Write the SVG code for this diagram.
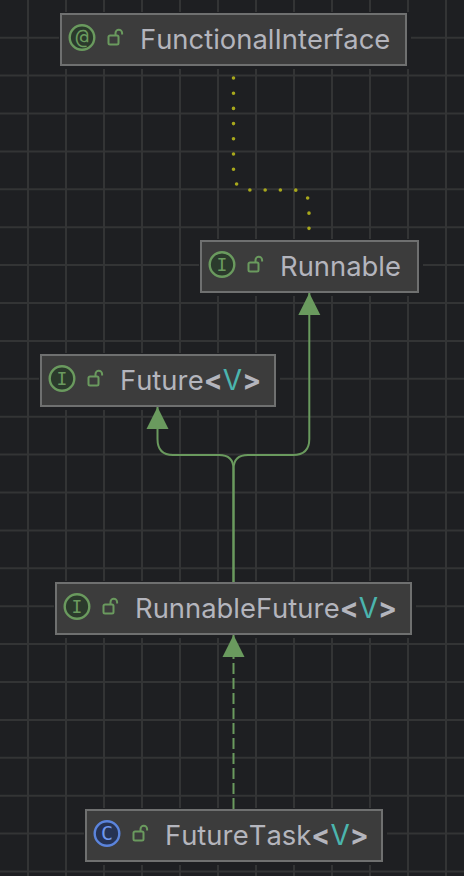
<svg xmlns="http://www.w3.org/2000/svg" width="464" height="876" viewBox="0 0 464 876">
<defs>
<style>
.n{fill:#3c3c3c;stroke:#6f7070;stroke-width:2}
.halo{fill:#1e1f22}
.t{font-family:Inter,"Noto Sans",sans-serif;font-size:27.4px;fill:#b4b5bd;font-kerning:none}
.b{font-weight:700;font-size:28px}
.v{fill:#4bb5ae;font-size:28px}
.ring{fill:#2b3a2c;stroke:#6a9a5e;stroke-width:2.4}
.cring{fill:#263354;stroke:#5b84dc;stroke-width:2.4}
.g{font-family:"DejaVu Sans Mono","Liberation Mono",monospace;font-size:18px;text-anchor:middle;fill:#6a9a5e}
.at{font-size:22px}
.c{fill:#6f98ee;font-size:20px}
.lock{fill:none;stroke:#6a9a5e;stroke-width:2}
.e{fill:none;stroke:#6a9a5e;stroke-width:2}
.d{stroke-dasharray:11 4}
.dot{fill:none;stroke:#a8a81c;stroke-width:3.6;stroke-linecap:round;stroke-dasharray:0 15.2}
.grid{stroke:#333435;stroke-width:2;fill:none}
</style>
<path id="lk" class="lock" d="M2 0H9a1.500 1.500 0 0 1 1.500 1.500V7.500a1.500 1.500 0 0 1 -1.500 1.500H2a1.500 1.500 0 0 1 -1.500 -1.500V1.500A1.500 1.500 0 0 1 2 0zM7.500 0V-2.500a3.300 3.300 0 0 1 6.600 0V-1"/>
<marker id="tri" markerUnits="userSpaceOnUse" markerWidth="24" markerHeight="24" refX="22" refY="12" orient="auto"><path d="M0 1L22 12L0 23z" fill="#6a9a5e"/></marker>
</defs>
<rect width="464" height="876" fill="#1e1f22"/>
<path class="grid" d="M28 0V876M66 0V876M104 0V876M142 0V876M180 0V876M218 0V876M256 0V876M294 0V876M332 0V876M370 0V876M408 0V876M446 0V876M0 37.700H464M0 75.600H464M0 113.500H464M0 151.400H464M0 189.300H464M0 227.200H464M0 265.100H464M0 303H464M0 340.900H464M0 378.800H464M0 416.700H464M0 454.600H464M0 492.500H464M0 530.400H464M0 568.300H464M0 606.200H464M0 644.100H464M0 682H464M0 719.900H464M0 757.800H464M0 795.700H464M0 833.600H464M0 871.500H464"/>
<g id="halos">
<rect class="halo" x="59" y="12" width="352" height="57"/>
<rect class="halo" x="199" y="239" width="224" height="57"/>
<rect class="halo" x="39" y="353" width="241" height="57"/>
<rect class="halo" x="54" y="581" width="362" height="57"/>
<rect class="halo" x="84" y="808" width="303" height="57"/>
</g>
<g id="connectors">
<path class="dot" d="M233.500 78V172Q233.500 190 251 190H293Q309 190 309 206V230"/>
<path class="e" marker-end="url(#tri)" d="M233.500 582V469Q233.500 455 219 455H173Q157.500 455 157.500 439V407"/>
<path class="e" marker-end="url(#tri)" d="M233.500 582V469Q233.500 455 248 455H293Q309.300 455 309.300 439V293"/>
<path class="e d" marker-end="url(#tri)" d="M233.500 809V635"/>
</g>
<g id="FunctionalInterface">
<rect class="n" x="61" y="14" width="345" height="51"/>
<circle class="ring" cx="82" cy="37.500" r="12.300"/>
<text class="g at" x="82" y="44">@</text>
<use href="#lk" x="108" y="35.500"/>
<text class="t" x="140" y="48.500">FunctionalInterface</text>
</g>
<g id="Runnable">
<rect class="n" x="201" y="241" width="217" height="51"/>
<circle class="ring" cx="222" cy="264.500" r="12.300"/>
<text class="g" x="222" y="270.500">I</text>
<use href="#lk" x="248" y="262.500"/>
<text class="t" x="280" y="275.500">Runnable</text>
</g>
<g id="Future">
<rect class="n" x="41" y="355" width="234" height="51"/>
<circle class="ring" cx="62" cy="378.500" r="12.300"/>
<text class="g" x="62" y="384.500">I</text>
<use href="#lk" x="88" y="376.500"/>
<text class="t" x="120" y="389.500">Future<tspan class="b">&lt;</tspan><tspan class="v">V</tspan><tspan class="b">&gt;</tspan></text>
</g>
<g id="RunnableFuture">
<rect class="n" x="56" y="583" width="355" height="51"/>
<circle class="ring" cx="77" cy="606.500" r="12.300"/>
<text class="g" x="77" y="612.500">I</text>
<use href="#lk" x="103" y="604.500"/>
<text class="t" x="135" y="617.500">RunnableFuture<tspan class="b">&lt;</tspan><tspan class="v">V</tspan><tspan class="b">&gt;</tspan></text>
</g>
<g id="FutureTask">
<rect class="n" x="86" y="810" width="296" height="51"/>
<circle class="cring" cx="107" cy="833.500" r="12.300"/>
<text class="g c" x="107" y="840">C</text>
<use href="#lk" x="133" y="831.500"/>
<text class="t" x="165" y="844.500">FutureTask<tspan class="b">&lt;</tspan><tspan class="v">V</tspan><tspan class="b">&gt;</tspan></text>
</g>
</svg>
